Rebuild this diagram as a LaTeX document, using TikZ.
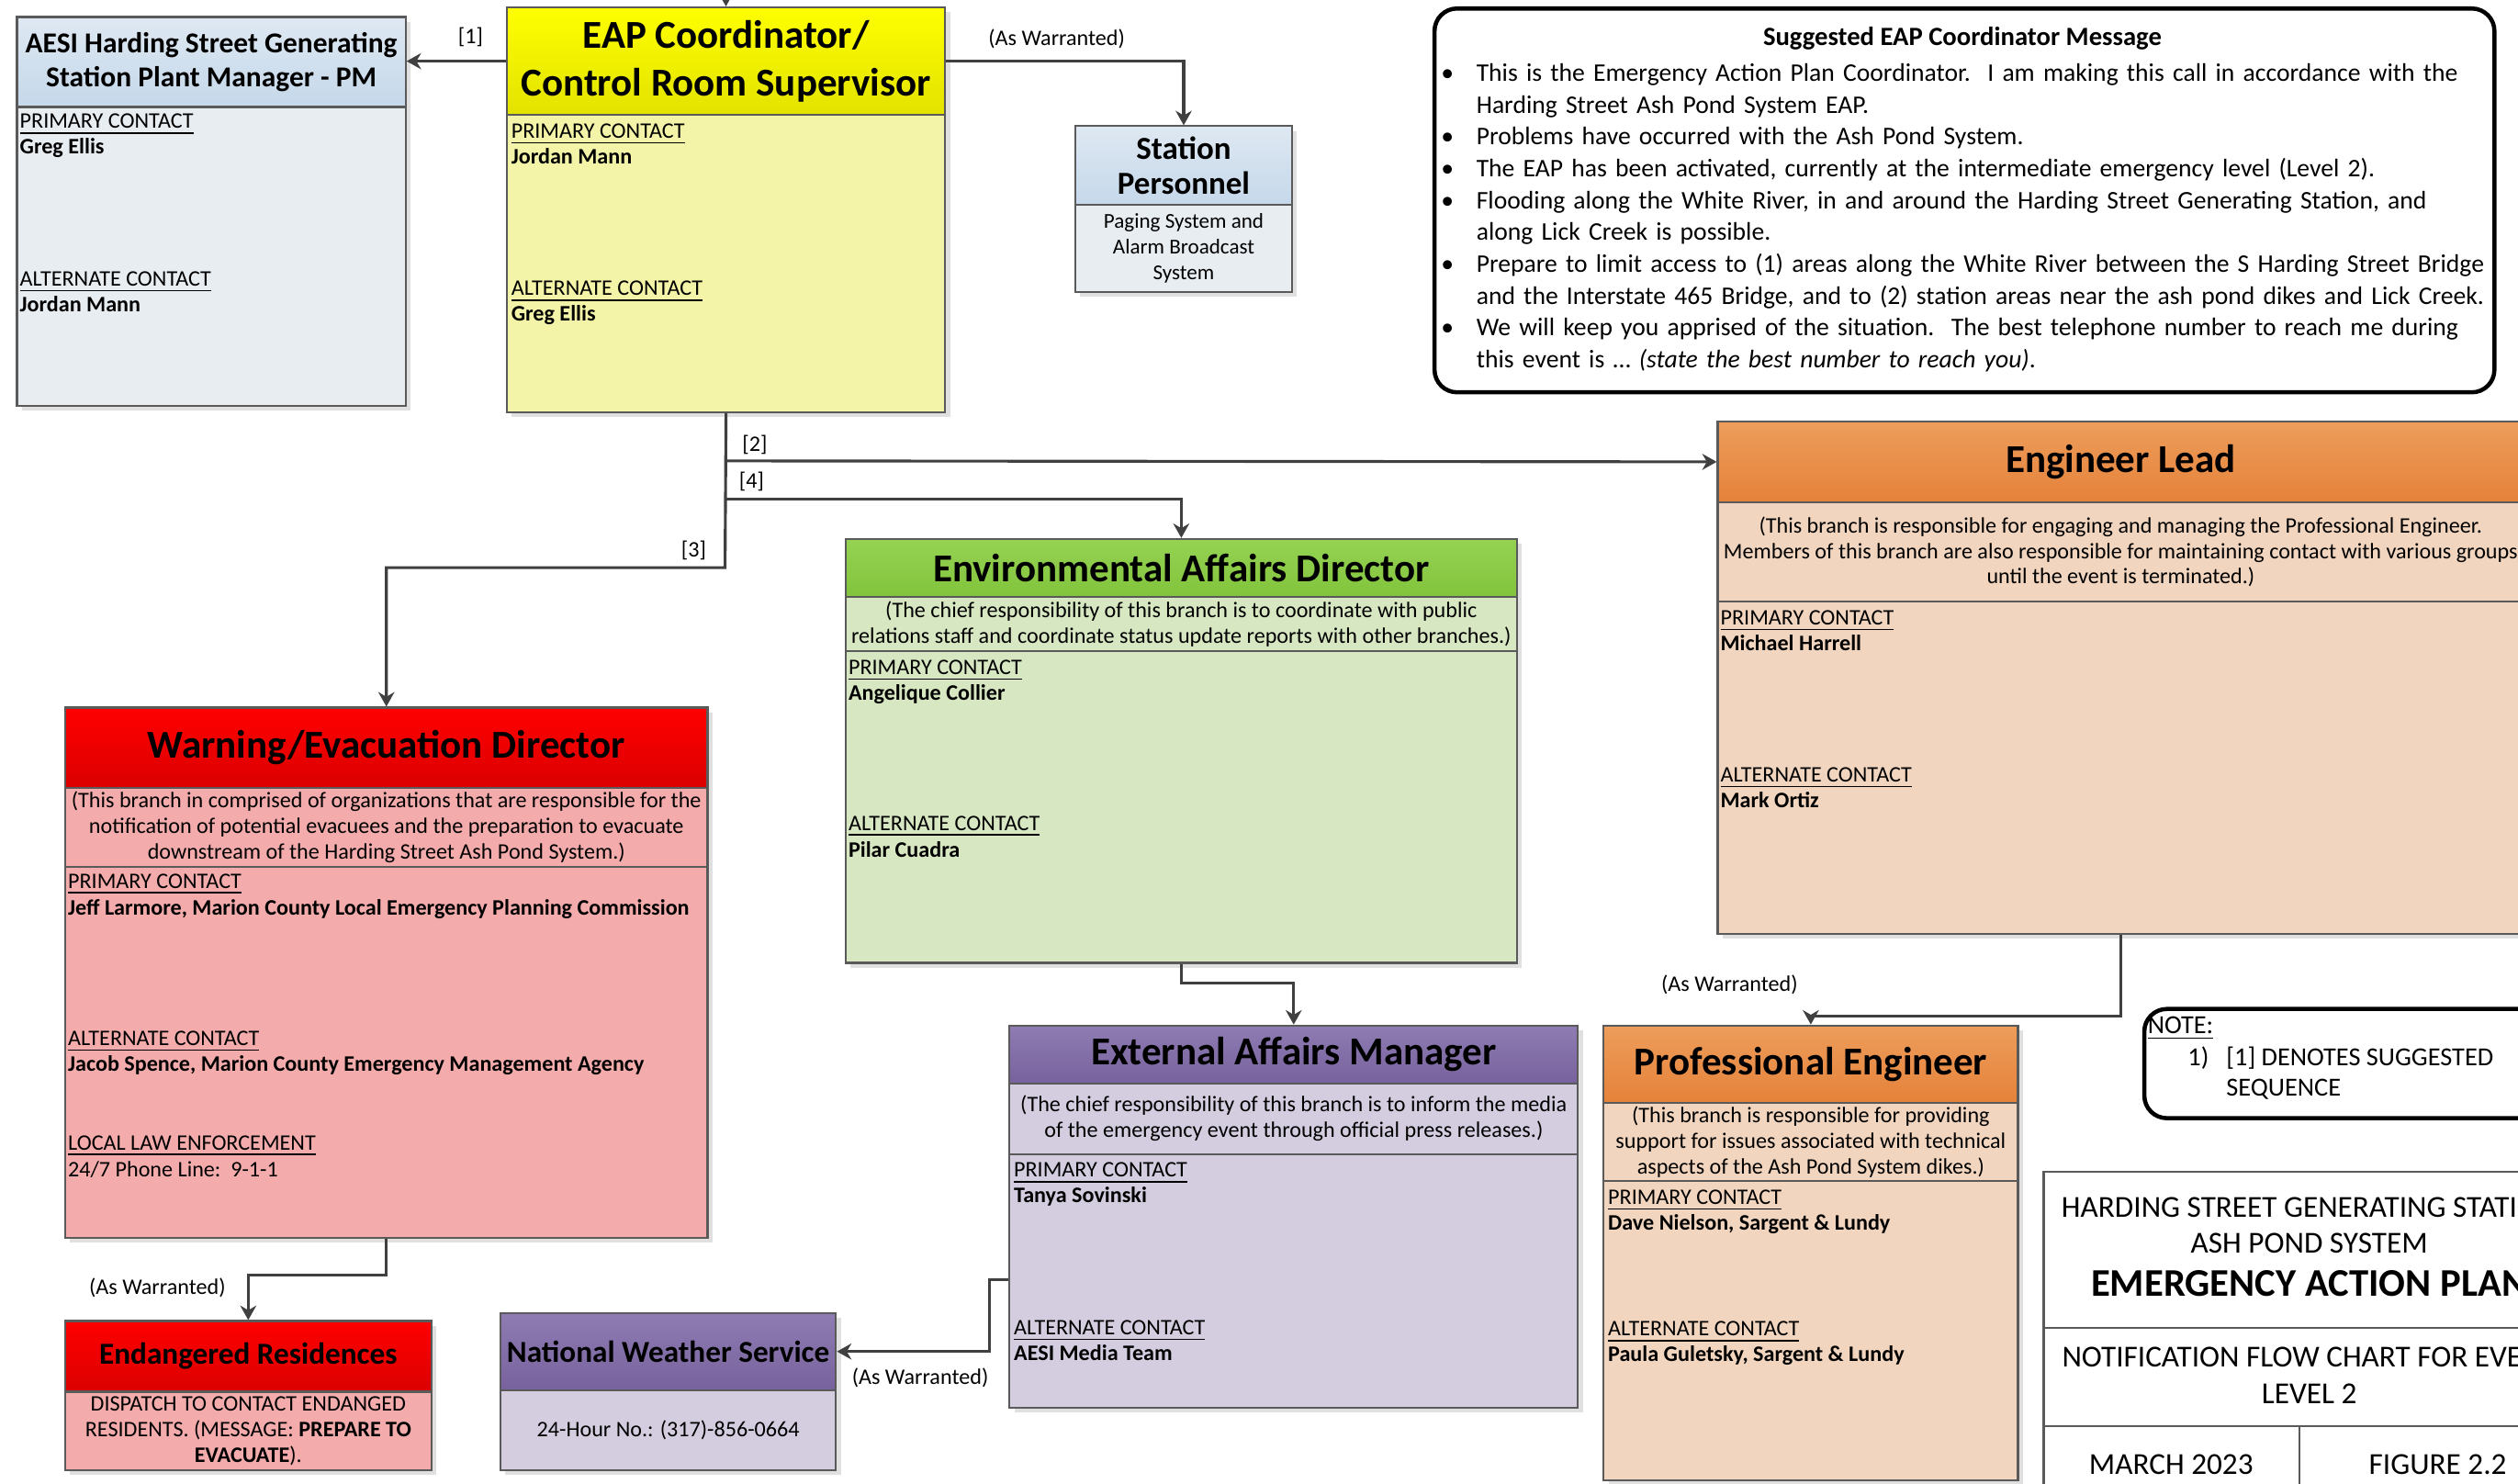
\documentclass[tikz,border=0pt]{standalone}
\usepackage{fontspec}
\setmainfont{Carlito}
\usetikzlibrary{arrows.meta,shadows}

\definecolor{edge}{HTML}{5A5A5A}
\definecolor{wire}{HTML}{404040}
\definecolor{blueTop}{HTML}{DEE8F2}
\definecolor{blueBot}{HTML}{C5D8EA}
\definecolor{blueBody}{HTML}{E8EDF2}
\definecolor{yelTop}{HTML}{FFFF00}
\definecolor{yelBot}{HTML}{E2E200}
\definecolor{yelBody}{HTML}{F4F4A8}
\definecolor{orgTop}{HTML}{ED9D5B}
\definecolor{orgBot}{HTML}{E5823A}
\definecolor{orgBody}{HTML}{F2D5BE}
\definecolor{grnTop}{HTML}{95D253}
\definecolor{grnBot}{HTML}{82C43C}
\definecolor{grnBody}{HTML}{D6E7C1}
\definecolor{redTop}{HTML}{FF0000}
\definecolor{redBot}{HTML}{DB0000}
\definecolor{redBody}{HTML}{F3ABAB}
\definecolor{purTop}{HTML}{8E7CB2}
\definecolor{purBot}{HTML}{78629E}
\definecolor{purBody}{HTML}{D4CDE0}

\newcommand{\msgitem}{\par\noindent\hangindent=11pt\hangafter=1\makebox[11pt][l]{\textbullet}}

\tikzset{
  panel/.style={draw=edge, line width=0.6pt, rectangle, inner sep=0pt, anchor=north west,
    drop shadow={shadow xshift=1.5pt, shadow yshift=-1.5pt, fill=black!12, opacity=1}},
  head/.style={draw=edge, line width=0.6pt, rectangle, inner sep=0pt, anchor=north west,
    align=center, font=\bfseries\fontsize{12.3}{15}\selectfont},
  blurb/.style={draw=edge, line width=0.6pt, rectangle, inner sep=0pt, anchor=north west,
    align=center, font=\fontsize{6.9}{8}\selectfont},
  txt/.style={inner sep=0pt, anchor=base west, font=\fontsize{6.9}{8}\selectfont},
  tag/.style={inner sep=0pt, font=\fontsize{6.9}{8}\selectfont},
  notetxt/.style={inner sep=0pt, anchor=base west, font=\fontsize{8.1}{10}\selectfont},
  ttl/.style={inner sep=0pt, anchor=base, font=\fontsize{9.5}{11}\selectfont},
  conn/.style={draw=wire, line width=0.9pt, -{Stealth[length=4.5pt,width=5pt]}},
}

\begin{document}
\begin{tikzpicture}[x=0.5pt,y=-0.5pt]
\useasboundingbox (0,0) rectangle (1568,924);
\clip (0,0) rectangle (1568,924);

% plant manager
\node[panel, fill=blueBody, minimum width=121pt, minimum height=121pt] (pm) at (10,10) {};
\node[head, top color=blueTop, bottom color=blueBot, minimum width=121pt, minimum height=28pt,
  font=\bfseries\fontsize{9}{10.5}\selectfont] (pm-h) at (10,10) {AESI Harding Street Generating\\Station Plant Manager - PM};
\node[txt] (pm-pri) at (12,80) {\underline{PRIMARY CONTACT}};
\node[txt] (pm-pn) at (12,96) {\textbf{Greg Ellis}};
\node[txt] (pm-alt) at (12,178) {\underline{ALTERNATE CONTACT}};
\node[txt] (pm-an) at (12,194) {\textbf{Jordan Mann}};

% coordinator
\node[panel, fill=yelBody, minimum width=136.5pt, minimum height=126pt] (eap) at (315,4) {};
\node[head, top color=yelTop, bottom color=yelBot, minimum width=136.5pt, minimum height=33.5pt] (eap-h) at (315,4) {EAP Coordinator/\\Control Room Supervisor};
\node[txt] (eap-pri) at (318,86) {\underline{PRIMARY CONTACT}};
\node[txt] (eap-pn) at (318,102) {\textbf{Jordan Mann}};
\node[txt] (eap-alt) at (318,184) {\underline{ALTERNATE CONTACT}};
\node[txt] (eap-an) at (318,200) {\textbf{Greg Ellis}};

% station personnel
\node[panel, fill=blueBody, minimum width=67.5pt, minimum height=51.5pt] (stn) at (669,78) {};
\node[head, top color=blueTop, bottom color=blueBot, minimum width=67.5pt, minimum height=24.5pt,
  font=\bfseries\fontsize{10}{11}\selectfont] (stn-h) at (669,78) {Station\\Personnel};
\node[blurb, draw=none, minimum width=67.5pt, minimum height=27pt, font=\fontsize{6.6}{8}\selectfont] (stn-b) at (669,127) {Paging System and\\Alarm Broadcast\\System};

% message
\node[draw=black, line width=1.3pt, rounded corners=7pt, rectangle, inner sep=0pt, anchor=north west,
  minimum width=330pt, minimum height=119.5pt] (msg) at (892,4) {};
\node[inner sep=0pt, font=\bfseries\fontsize{8.2}{10}\selectfont] (msg-t) at (1222,24) {Suggested EAP Coordinator Message};
\node[inner sep=0pt, anchor=north west, text width=360pt, align=left, font=\fontsize{7.9}{9.9}\selectfont] (msg-b) at (897,30.5) {%
\msgitem This is the Emergency Action Plan Coordinator.\ \ I am making this call in accordance with the\newline Harding Street Ash Pond System EAP.
\msgitem Problems have occurred with the Ash Pond System.
\msgitem The EAP has been activated, currently at the intermediate emergency level (Level 2).
\msgitem Flooding along the White River, in and around the Harding Street Generating Station, and\newline along Lick Creek is possible.
\msgitem Prepare to limit access to (1) areas along the White River between the S Harding Street Bridge\newline and the Interstate 465 Bridge, and to (2) station areas near the ash pond dikes and Lick Creek.
\msgitem We will keep you apprised of the situation.\ \ The best telephone number to reach me during\newline this event is \dots{} \textit{(state the best number to reach you)}.\par};

% engineer lead
\node[panel, fill=orgBody, minimum width=251pt, minimum height=159.5pt] (eng) at (1069,262) {};
\node[head, top color=orgTop, bottom color=orgBot, minimum width=251pt, minimum height=25pt] (eng-h) at (1069,262) {Engineer Lead};
\node[blurb, minimum width=251pt, minimum height=31pt] (eng-d) at (1069,312) {(This branch is responsible for engaging and managing the Professional Engineer.\\Members of this branch are also responsible for maintaining contact with various groups\\until the event is terminated.)};
\node[txt] (eng-pri) at (1071,389) {\underline{PRIMARY CONTACT}};
\node[txt] (eng-pn) at (1071,405) {\textbf{Michael Harrell}};
\node[txt] (eng-alt) at (1071,487) {\underline{ALTERNATE CONTACT}};
\node[txt] (eng-an) at (1071,503) {\textbf{Mark Ortiz}};

% environmental affairs
\node[panel, fill=grnBody, minimum width=209pt, minimum height=132pt] (env) at (526,335) {};
\node[head, top color=grnTop, bottom color=grnBot, minimum width=209pt, minimum height=18pt] (env-h) at (526,335) {Environmental Affairs Director};
\node[blurb, minimum width=209pt, minimum height=17pt] (env-d) at (526,371) {(The chief responsibility of this branch is to coordinate with public\\relations staff and coordinate status update reports with other branches.)};
\node[txt] (env-pri) at (528,420) {\underline{PRIMARY CONTACT}};
\node[txt] (env-pn) at (528,436) {\textbf{Angelique Collier}};
\node[txt] (env-alt) at (528,517) {\underline{ALTERNATE CONTACT}};
\node[txt] (env-an) at (528,534) {\textbf{Pilar Cuadra}};

% warning / evacuation
\node[panel, fill=redBody, minimum width=200pt, minimum height=165pt] (warn) at (40,440) {};
\node[head, top color=redTop, bottom color=redBot, minimum width=200pt, minimum height=25pt] (warn-h) at (40,440) {Warning/Evacuation Director};
\node[blurb, minimum width=200pt, minimum height=24.5pt] (warn-d) at (40,490) {(This branch in comprised of organizations that are responsible for the\\notification of potential evacuees and the preparation to evacuate\\downstream of the Harding Street Ash Pond System.)};
\node[txt] (warn-pri) at (42,553) {\underline{PRIMARY CONTACT}};
\node[txt] (warn-pn) at (42,570) {\textbf{Jeff Larmore, Marion County Local Emergency Planning Commission}};
\node[txt] (warn-alt) at (42,651) {\underline{ALTERNATE CONTACT}};
\node[txt] (warn-an) at (42,667) {\textbf{Jacob Spence, Marion County Emergency Management Agency}};
\node[txt] (warn-law) at (42,716) {\underline{LOCAL LAW ENFORCEMENT}};
\node[txt] (warn-ph) at (42,733) {24/7 Phone Line:\ \ 9-1-1};

% endangered residences
\node[panel, fill=redBody, minimum width=114pt, minimum height=46.5pt] (res) at (40,822) {};
\node[head, top color=redTop, bottom color=redBot, minimum width=114pt, minimum height=22pt,
  font=\bfseries\fontsize{9.5}{11}\selectfont] (res-h) at (40,822) {Endangered Residences};
\node[blurb, draw=none, minimum width=114pt, minimum height=24.5pt] (res-b) at (40,866) {DISPATCH TO CONTACT ENDANGED\\RESIDENTS. (MESSAGE: \textbf{PREPARE TO}\\\textbf{EVACUATE}).};

% weather service
\node[panel, fill=purBody, minimum width=104.5pt, minimum height=49pt] (nws) at (311,817) {};
\node[head, top color=purTop, bottom color=purBot, minimum width=104.5pt, minimum height=24pt,
  font=\bfseries\fontsize{9.5}{11}\selectfont] (nws-h) at (311,817) {National Weather Service};
\node[blurb, draw=none, minimum width=104.5pt, minimum height=25pt] (nws-b) at (311,865) {24-Hour No.: (317)-856-0664};

% external affairs
\node[panel, fill=purBody, minimum width=177pt, minimum height=119pt] (ext) at (628,638) {};
\node[head, top color=purTop, bottom color=purBot, minimum width=177pt, minimum height=18pt] (ext-h) at (628,638) {External Affairs Manager};
\node[blurb, minimum width=177pt, minimum height=22pt] (ext-d) at (628,674) {(The chief responsibility of this branch is to inform the media\\of the emergency event through official press releases.)};
\node[txt] (ext-pri) at (631,733) {\underline{PRIMARY CONTACT}};
\node[txt] (ext-pn) at (631,749) {\textbf{Tanya Sovinski}};
\node[txt] (ext-alt) at (631,831) {\underline{ALTERNATE CONTACT}};
\node[txt] (ext-an) at (631,847) {\textbf{AESI Media Team}};

% professional engineer
\node[panel, fill=orgBody, minimum width=129pt, minimum height=141.5pt] (pe) at (998,638) {};
\node[head, top color=orgTop, bottom color=orgBot, minimum width=129pt, minimum height=24pt] (pe-h) at (998,638) {Professional Engineer};
\node[blurb, minimum width=129pt, minimum height=24.5pt] (pe-d) at (998,686) {(This branch is responsible for providing\\support for issues associated with technical\\aspects of the Ash Pond System dikes.)};
\node[txt] (pe-pri) at (1001,750) {\underline{PRIMARY CONTACT}};
\node[txt] (pe-pn) at (1001,766) {\textbf{Dave Nielson, Sargent \& Lundy}};
\node[txt] (pe-alt) at (1001,832) {\underline{ALTERNATE CONTACT}};
\node[txt] (pe-an) at (1001,848) {\textbf{Paula Guletsky, Sargent \& Lundy}};

% note
\node[draw=black, line width=1.3pt, rounded corners=7pt, rectangle, inner sep=0pt, anchor=north west,
  minimum width=133pt, minimum height=34pt] (note) at (1334,627) {};
\node[notetxt] (note-a) at (1337,643.5) {\underline{NOTE:}};
\node[notetxt] (note-b) at (1362,663.5) {1)};
\node[notetxt] (note-c) at (1386,663.5) {[1] DENOTES SUGGESTED};
\node[notetxt] (note-d) at (1386,682.5) {SEQUENCE};

% title block
\node[draw=edge, line width=0.6pt, rectangle, inner sep=0pt, anchor=north west,
  minimum width=166pt, minimum height=120pt] (ttl) at (1272,729) {};
\draw[edge, line width=0.6pt] (1272,827) -- (1604,827);
\draw[edge, line width=0.6pt] (1272,888) -- (1604,888);
\draw[edge, line width=0.6pt] (1432,888) -- (1432,969);
\node[ttl] (ttl-a) at (1438,758) {HARDING STREET GENERATING STATION};
\node[ttl] (ttl-b) at (1438,780) {ASH POND SYSTEM};
\node[ttl, font=\bfseries\fontsize{12.2}{14}\selectfont] (ttl-c) at (1438,807) {EMERGENCY ACTION PLAN};
\node[ttl] (ttl-d) at (1438,851) {NOTIFICATION FLOW CHART FOR EVENT};
\node[ttl] (ttl-e) at (1438,874) {LEVEL 2};
\node[ttl] (ttl-f) at (1352,918) {MARCH 2023};
\node[ttl] (ttl-g) at (1518,918) {FIGURE 2.2};

% connectors
\coordinate (in) at (451.5,-30);
\coordinate (j2) at (451.5,287);
\coordinate (j4) at (451.5,311);
\coordinate (j3) at (451.5,353.5);
\coordinate (x1) at (628,797);
\draw[conn] (in) -- (eap.north);
\draw[conn] (eap-h.west) -- (pm-h.east |- eap-h.west);
\draw[conn] (eap-h.east) -| (stn.north);
\draw[conn] (eap.south) -- (j3) -| (warn.north);
\draw[conn] (j2) -- (eng-h.west);
\draw[conn] (j4) -| (env.north);
\draw[conn] (env.south) -- ++(0,12) -| (ext.north);
\draw[conn] (eng.south) -- ++(0,50.5) -| (pe.north);
\draw[conn] (warn.south) -- ++(0,22.7) -| (res.north);
\draw[conn] (x1) -- ++(-12,0) |- (nws-h.east);

% labels
\node[tag] (t1) at (293,23) {[1]};
\node[tag] (aw1) at (658,24) {(As Warranted)};
\node[tag] (t2) at (470,277) {[2]};
\node[tag] (t4) at (468,300) {[4]};
\node[tag] (t3) at (432,343) {[3]};
\node[tag] (aw2) at (98,802) {(As Warranted)};
\node[tag] (aw3) at (573,858) {(As Warranted)};
\node[tag] (aw4) at (1077,613) {(As Warranted)};
\end{tikzpicture}
\end{document}
